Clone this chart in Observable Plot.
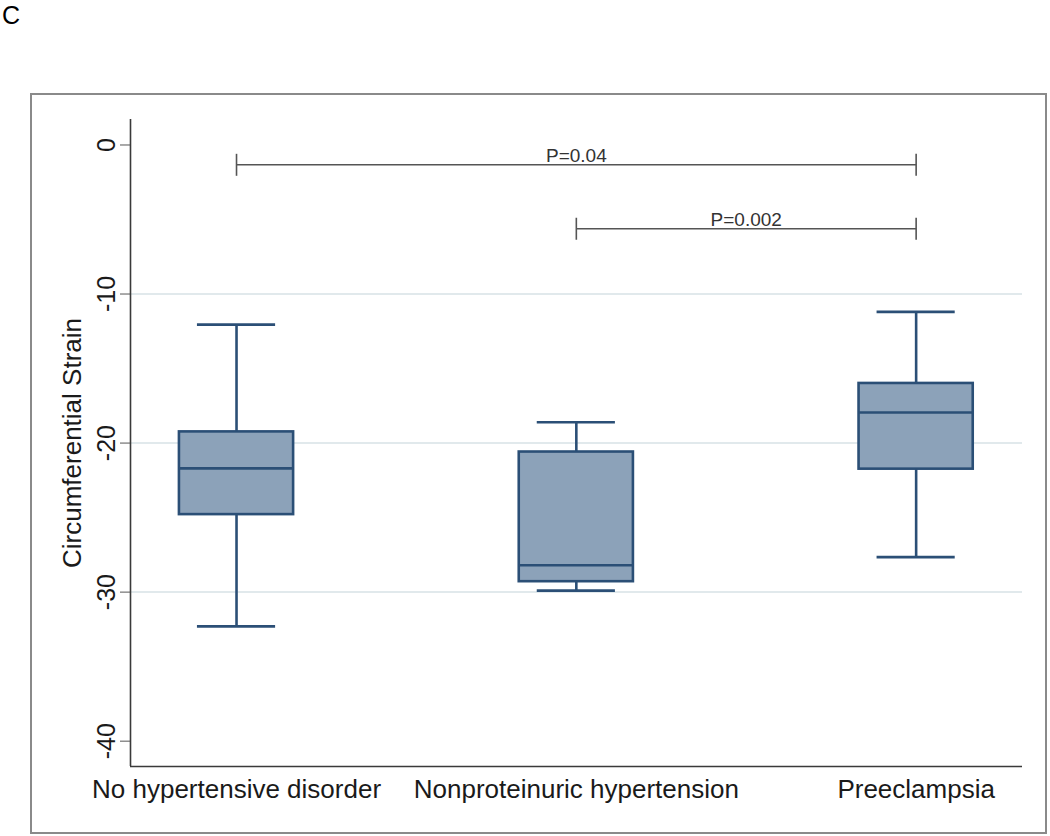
<!DOCTYPE html>
<html>
<head>
<meta charset="utf-8">
<script src="https://cdn.jsdelivr.net/npm/d3@7"></script>
<script src="https://cdn.jsdelivr.net/npm/@observablehq/plot@0.6"></script>
<style>
  html, body { margin: 0; padding: 0; background: #fff; }
  #wrap { position: relative; width: 1050px; height: 836px; overflow: hidden; font-family: "Liberation Sans", Arial, sans-serif; }
  #panel { position: absolute; left: 2px; top: 1px; font-size: 25px; color: #000; line-height: normal; font-family: "Liberation Sans", Arial, sans-serif; }
  #frame { position: absolute; left: 30px; top: 93px; width: 1017px; height: 741px; border: 2px solid #8a8a8a; box-sizing: border-box; }
  #chart { position: absolute; left: 0; top: 0; }
</style>
</head>
<body>
<div id="wrap">
  <div id="frame"></div>
  <div id="panel">C</div>
  <div id="chart"></div>
</div>
<script>
// ---- data ----
const categories = ["No hypertensive disorder", "Nonproteinuric hypertension", "Preeclampsia"];
const whiskerLow  = [-32.3, -29.9, -27.65];
const q1          = [-24.8, -29.3, -21.75];
const median      = [-21.7, -28.2, -17.95];
const q3          = [-19.25, -20.6, -16.0];
const whiskerHigh = [-12.05, -18.6, -11.2];

const yTicks = [0, -10, -20, -30, -40];
const gridTicks = [-10, -20, -30];

// significance brackets (from group index, to group index, bar level, label)
const bracketFrom  = [1, 2];
const bracketTo    = [3, 3];
const bracketLevel = [-1.33, -5.62];
const bracketLabel = ["P=0.04", "P=0.002"];

// ---- layout / style constants ----
const xDomain = [0.688, 3.313];
const yDomain = [-41.7, 1.71];
const boxHalf = 0.168;
const capHalf = 0.115;
const boxFill = "#8ca2b9";
const boxStroke = "#2b4f76";

const boxes = categories.map((c, i) => ({
  cat: c, idx: i + 1,
  lo: whiskerLow[i], q1: q1[i], med: median[i], q3: q3[i], hi: whiskerHigh[i]
}));
const brackets = bracketLabel.map((l, i) => ({
  from: bracketFrom[i], to: bracketTo[i], level: bracketLevel[i], label: l,
  mid: (bracketFrom[i] + bracketTo[i]) / 2
}));
const bracketEnds = brackets.flatMap(b => [{x: b.from, y: b.level}, {x: b.to, y: b.level}]);

const vbar = { draw(ctx) { ctx.moveTo(0, -11); ctx.lineTo(0, 11); } };

const chart = Plot.plot({
  width: 1050,
  height: 836,
  marginLeft: 130,
  marginRight: 28,
  marginTop: 119,
  marginBottom: 70,
  style: { fontFamily: "'Liberation Sans', Arial, sans-serif", fontSize: "26px", color: "#1a1a1a", background: "transparent" },
  x: { domain: xDomain, axis: null },
  y: { domain: yDomain, axis: null },
  marks: [
    Plot.ruleY(gridTicks, { stroke: "#e1e9ec", strokeWidth: 2 }),
    // axes lines
    Plot.ruleX([xDomain[0]], { stroke: "#3a3a3a", strokeWidth: 1.6 }),
    Plot.ruleY([yDomain[0]], { stroke: "#3a3a3a", strokeWidth: 1.6 }),
    Plot.axisY({
      ticks: yTicks, tickSize: 10, tickPadding: 6, tickRotate: -90,
      tickFormat: d => String(d), stroke: "#555", fontSize: 25,
      label: null
    }),
    Plot.axisX({
      ticks: [1, 2, 3], tickSize: 0, tickPadding: 13,
      tickFormat: d => categories[d - 1], label: null
    }),
    Plot.text(["Circumferential Strain"], {
      frameAnchor: "left", text: d => d, rotate: -90, dx: -58, fontSize: 26, textAnchor: "middle"
    }),
    // whiskers
    Plot.ruleX(boxes, { x: "idx", y1: "q3", y2: "hi", stroke: boxStroke, strokeWidth: 2.6 }),
    Plot.ruleX(boxes, { x: "idx", y1: "lo", y2: "q1", stroke: boxStroke, strokeWidth: 2.6 }),
    Plot.ruleY(boxes, { y: "hi", x1: d => d.idx - capHalf, x2: d => d.idx + capHalf, stroke: boxStroke, strokeWidth: 2.6 }),
    Plot.ruleY(boxes, { y: "lo", x1: d => d.idx - capHalf, x2: d => d.idx + capHalf, stroke: boxStroke, strokeWidth: 2.6 }),
    // boxes
    Plot.rect(boxes, { x1: d => d.idx - boxHalf, x2: d => d.idx + boxHalf, y1: "q1", y2: "q3", fill: boxFill, stroke: boxStroke, strokeWidth: 2.6 }),
    Plot.ruleY(boxes, { y: "med", x1: d => d.idx - boxHalf, x2: d => d.idx + boxHalf, stroke: boxStroke, strokeWidth: 2.6 }),
    // significance brackets
    Plot.link(brackets, { x1: "from", x2: "to", y1: "level", y2: "level", stroke: "#555", strokeWidth: 1.6 }),
    Plot.dot(bracketEnds, { x: "x", y: "y", symbol: vbar, stroke: "#555", strokeWidth: 1.6, fill: "none" }),
    Plot.text(brackets, { x: "mid", y: "level", text: "label", lineAnchor: "bottom", dy: -3, fontSize: 19, fill: "#333" })
  ]
});
document.getElementById("chart").appendChild(chart);
</script>
</body>
</html>
